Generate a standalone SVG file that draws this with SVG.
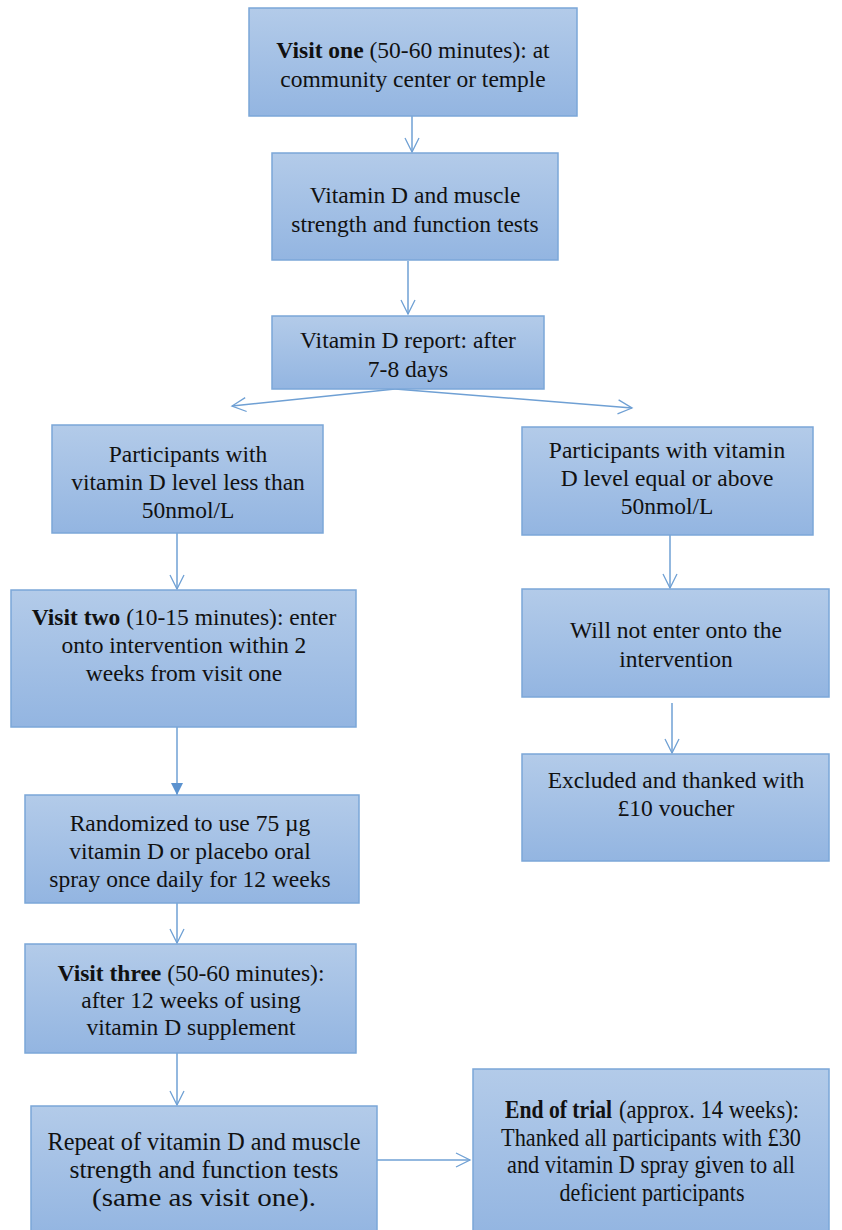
<svg xmlns="http://www.w3.org/2000/svg" width="842" height="1230" viewBox="0 0 842 1230">
<defs>
<linearGradient id="g" x1="0" y1="0" x2="0" y2="1">
<stop offset="0" stop-color="#b3cbe9"/>
<stop offset="1" stop-color="#93b5e1"/>
</linearGradient>
<marker id="open" markerWidth="20" markerHeight="20" refX="15" refY="10" orient="auto" markerUnits="userSpaceOnUse">
<path d="M1,3 L15,10 L1,17" fill="none" stroke="#6fa0d4" stroke-width="1.3"/>
</marker>
<marker id="fill" markerWidth="16" markerHeight="16" refX="12" refY="6" orient="auto" markerUnits="userSpaceOnUse">
<path d="M0,0 L12,6 L0,12 Z" fill="#5b92cf"/>
</marker>
</defs>
<style>
.box{fill:url(#g);stroke:#7ba7d8;stroke-width:1.5}
text{font-family:'Liberation Serif','Times New Roman',serif;font-size:23.5px;fill:#111;text-anchor:middle}
.b{font-weight:bold}
.k{font-size:25px}
.s{text-anchor:start}
.c{stroke:#6fa0d4;stroke-width:1.5;fill:none}
</style>
<g id="connectors">
<line class="c" x1="412" y1="116" x2="412" y2="152" marker-end="url(#open)"/>
<line class="c" x1="408" y1="261" x2="408" y2="314" marker-end="url(#open)"/>
<line class="c" x1="395" y1="389" x2="232" y2="406" marker-end="url(#open)"/>
<line class="c" x1="395" y1="389" x2="632" y2="408" marker-end="url(#open)"/>
<line class="c" x1="177" y1="533" x2="177" y2="589" marker-end="url(#open)"/>
<line class="c" x1="177" y1="727" x2="177" y2="795" marker-end="url(#fill)"/>
<line class="c" x1="177" y1="903" x2="177" y2="943" marker-end="url(#open)"/>
<line class="c" x1="177" y1="1053" x2="177" y2="1105" marker-end="url(#open)"/>
<line class="c" x1="670" y1="535" x2="670" y2="588" marker-end="url(#open)"/>
<line class="c" x1="672" y1="703" x2="672" y2="753" marker-end="url(#open)"/>
<line class="c" x1="377" y1="1160" x2="470" y2="1160" marker-end="url(#open)"/>
</g>
<g id="n1"><rect class="box" x="249" y="8" width="328" height="108"/>
<text x="413" y="58"><tspan class="b">Visit one</tspan> (50-60 minutes): at</text>
<text x="413" y="87">community center or temple</text></g>
<g id="n2"><rect class="box" x="272" y="153" width="286" height="107"/>
<text x="415" y="203">Vitamin D and muscle</text>
<text x="415" y="232">strength and function tests</text></g>
<g id="n3"><rect class="box" x="272" y="316" width="272" height="73"/>
<text x="408" y="348">Vitamin D report: after</text>
<text x="408" y="377">7-8 days</text></g>
<g id="n4"><rect class="box" x="52" y="425" width="271" height="108"/>
<text x="188" y="462">Participants with</text>
<text x="188" y="490">vitamin D level less than</text>
<text x="188" y="518">50nmol/L</text></g>
<g id="n5"><rect class="box" x="522" y="427" width="291" height="108"/>
<text x="667" y="458">Participants with vitamin</text>
<text x="667" y="486">D level equal or above</text>
<text x="667" y="514">50nmol/L</text></g>
<g id="n6"><rect class="box" x="11" y="590" width="345" height="137"/>
<text x="184" y="625"><tspan class="b">Visit two</tspan> (10-15 minutes): enter</text>
<text x="184" y="653">onto intervention within 2</text>
<text x="184" y="681">weeks from visit one</text></g>
<g id="n7"><rect class="box" x="522" y="589" width="307" height="108"/>
<text x="676" y="638">Will not enter onto the</text>
<text x="676" y="667">intervention</text></g>
<g id="n8"><rect class="box" x="25" y="795" width="334" height="108"/>
<text x="190" y="831">Randomized to use 75 µg</text>
<text x="190" y="859">vitamin D or placebo oral</text>
<text x="190" y="887">spray once daily for 12 weeks</text></g>
<g id="n9"><rect class="box" x="522" y="754" width="307" height="107"/>
<text x="676" y="788">Excluded and thanked with</text>
<text x="676" y="816">£10 voucher</text></g>
<g id="n10"><rect class="box" x="25" y="944" width="331" height="109"/>
<text x="191" y="981"><tspan class="b">Visit three</tspan> (50-60 minutes):</text>
<text x="191" y="1008">after 12 weeks of using</text>
<text x="191" y="1035">vitamin D supplement</text></g>
<g id="n11"><rect class="box" x="31" y="1106" width="346" height="130"/>
<text class="k" x="204" y="1150" textLength="313" lengthAdjust="spacingAndGlyphs">Repeat of vitamin D and muscle</text>
<text class="k" x="204" y="1178" textLength="269" lengthAdjust="spacingAndGlyphs">strength and function tests</text>
<text class="k" x="204" y="1206" textLength="224" lengthAdjust="spacingAndGlyphs">(same as visit one).</text></g>
<g id="n12"><rect class="box" x="473" y="1069" width="356" height="167"/>
<text class="k s b" x="505" y="1118" textLength="107" lengthAdjust="spacingAndGlyphs">End of trial</text>
<text class="k s" x="619" y="1118" textLength="180" lengthAdjust="spacingAndGlyphs">(approx. 14 weeks):</text>
<text class="k" x="651" y="1146" textLength="300" lengthAdjust="spacingAndGlyphs">Thanked all participants with £30</text>
<text class="k" x="651" y="1173" textLength="288" lengthAdjust="spacingAndGlyphs">and vitamin D spray given to all</text>
<text class="k" x="652" y="1201" textLength="185" lengthAdjust="spacingAndGlyphs">deficient participants</text></g>
</svg>
